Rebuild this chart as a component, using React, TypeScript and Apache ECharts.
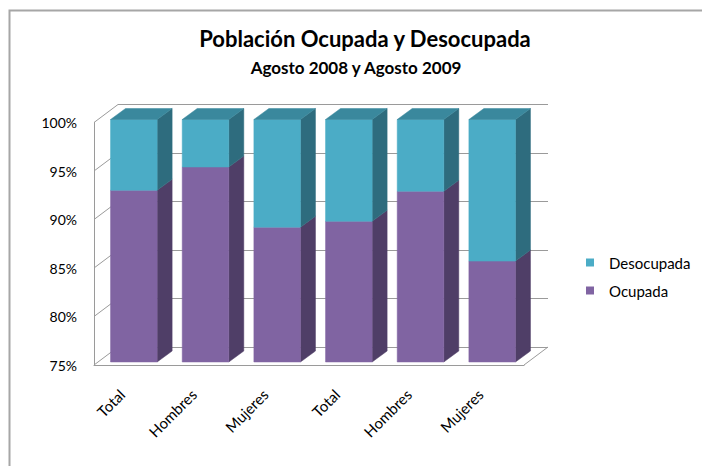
import React, { useEffect, useRef } from 'react';
import * as echarts from 'echarts';

// ---- data ----
const categories = ['Total', 'Hombres', 'Mujeres', 'Total', 'Hombres', 'Mujeres'];
const ocupada = [92.7, 95.1, 88.9, 89.5, 92.6, 85.4];
const desocupada = [7.3, 4.9, 11.1, 10.5, 7.4, 14.6];
const yTicks = [75, 80, 85, 90, 95, 100];
const Y_MIN = 75;
const Y_MAX = 100;
const Y_STEP = 5;
const legendOrder = ['Desocupada', 'Ocupada'];
const titleText = 'Población Ocupada y Desocupada';
const subtitleText = 'Agosto 2008 y Agosto 2009';

// ---- style / geometry ----
const FONT = 'Lato, "Open Sans", sans-serif';
const WALL_DX = 24;
const WALL_DY = -18;
const BAR_DX = 4;
const BAR_DY = -3;
const DEPTH_DX = 15;
const DEPTH_DY = -11;
const BAR_RATIO = 0.65;
const LINE = '#9a9a9a';

const COLORS = {
  Desocupada: { front: '#4bacc6', side: '#2e6c7e', top: '#3a889d' },
  Ocupada: { front: '#8064a2', side: '#4f3e67', top: '#6a5388' },
};

function makeBarRenderer(c: { front: string; side: string; top: string }) {
  return (params: any, api: any) => {
    const i = api.value(0);
    const v0 = api.value(1);
    const v1 = api.value(2);
    const hasTop = api.value(3);
    const pB = api.coord([i, Math.max(v0, Y_MIN)]);
    const pT = api.coord([i, Math.min(v1, Y_MAX)]);
    const bw = api.size([1, 0])[0] * BAR_RATIO;
    const xL = pB[0] - bw / 2 + BAR_DX;
    const xR = xL + bw;
    const yB = pB[1] + BAR_DY;
    const yT = pT[1] + BAR_DY;
    const children: any[] = [
      {
        type: 'polygon',
        shape: { points: [[xR, yB], [xR + DEPTH_DX, yB + DEPTH_DY], [xR + DEPTH_DX, yT + DEPTH_DY], [xR, yT]] },
        style: { fill: c.side, stroke: c.side, lineWidth: 0.5 },
      },
      {
        type: 'rect',
        shape: { x: xL, y: yT, width: bw, height: yB - yT },
        style: { fill: c.front, stroke: c.front, lineWidth: 0.5 },
      },
    ];
    if (hasTop) {
      children.push({
        type: 'polygon',
        shape: { points: [[xL, yT], [xR, yT], [xR + DEPTH_DX, yT + DEPTH_DY], [xL + DEPTH_DX, yT + DEPTH_DY]] },
        style: { fill: c.top, stroke: c.top, lineWidth: 0.5 },
      });
    }
    return { type: 'group', children };
  };
}

function wallRenderer(params: any, api: any) {
  const cs = params.coordSys;
  const v = api.value(1);
  const y = api.coord([0, v])[1];
  const children: any[] = [
    {
      type: 'line',
      shape: { x1: cs.x, y1: y, x2: cs.x + WALL_DX, y2: y + WALL_DY },
      style: { stroke: LINE, lineWidth: 1 },
    },
  ];
  if (v === Y_MIN) {
    children.push({
      type: 'line',
      shape: { x1: cs.x + cs.width, y1: y, x2: cs.x + cs.width + WALL_DX, y2: y + WALL_DY },
      style: { stroke: LINE, lineWidth: 1 },
    });
  }
  return { type: 'group', children };
}

export default function App() {
  const ref = useRef<HTMLDivElement>(null);
  useEffect(() => {
    if (!ref.current) return;
    const chart = echarts.init(ref.current, null, { renderer: 'svg' });
    const front = { left: 94, top: 122.5, right: 178, bottom: 101 };
    const back = {
      left: front.left + WALL_DX,
      top: front.top + WALL_DY,
      right: front.right - WALL_DX,
      bottom: front.bottom - WALL_DY,
    };
    chart.setOption({
      animation: false,
      backgroundColor: '#ffffff',
      textStyle: { fontFamily: FONT },
      title: [
        {
          text: titleText,
          left: 365,
          top: 27,
          padding: 0,
          textAlign: 'center',
          textStyle: { fontFamily: FONT, fontSize: 22, fontWeight: 'bold', color: '#000' },
        },
        {
          text: subtitleText,
          left: 356,
          top: 59,
          padding: 0,
          textAlign: 'center',
          textStyle: { fontFamily: FONT, fontSize: 17, fontWeight: 'bold', color: '#000' },
        },
      ],
      legend: {
        data: legendOrder,
        orient: 'vertical',
        left: 586,
        top: 255,
        padding: 0,
        icon: 'rect',
        itemWidth: 8,
        itemHeight: 8,
        itemGap: 13,
        textStyle: { fontFamily: FONT, fontSize: 15, color: '#000', padding: [0, 0, 0, 10] },
      },
      graphic: [
        {
          type: 'rect',
          shape: { x: 9.5, y: 10.5, width: 760, height: 520 },
          style: { fill: 'none', stroke: '#a6a6a6', lineWidth: 2 },
          silent: true,
        },
      ],
      grid: [
        { ...front, containLabel: false },
        { ...back, containLabel: false },
      ],
      xAxis: [
        {
          type: 'category',
          gridIndex: 0,
          data: categories,
          boundaryGap: true,
          axisTick: { show: false },
          axisLine: { show: true, lineStyle: { color: LINE, width: 1 } },
          axisLabel: {
            rotate: 45,
            margin: 19,
            padding: [0, 11, 0, 0],
            fontFamily: FONT,
            fontSize: 15,
            color: '#000',
            interval: 0,
          },
        },
        {
          type: 'category',
          gridIndex: 1,
          data: categories,
          show: false,
        },
      ],
      yAxis: [
        {
          type: 'value',
          gridIndex: 0,
          min: Y_MIN,
          max: Y_MAX,
          interval: Y_STEP,
          axisLine: { show: true, lineStyle: { color: LINE, width: 1 } },
          axisTick: { show: false },
          splitLine: { show: false },
          axisLabel: {
            formatter: '{value}%',
            margin: 17,
            padding: [8, 0, 0, 0],
            fontFamily: FONT,
            fontSize: 14,
            color: '#000',
          },
        },
        {
          type: 'value',
          gridIndex: 1,
          min: Y_MIN,
          max: Y_MAX,
          interval: Y_STEP,
          axisLine: { show: false },
          axisTick: { show: false },
          axisLabel: { show: false },
          splitLine: { show: true, lineStyle: { color: LINE, width: 1 } },
        },
      ],
      series: [
        {
          type: 'custom',
          name: 'wall',
          xAxisIndex: 0,
          yAxisIndex: 0,
          z: 1,
          silent: true,
          renderItem: wallRenderer,
          data: yTicks.map((v) => [0, v]),
          encode: { x: 0, y: 1 },
        },
        {
          type: 'custom',
          name: 'Ocupada',
          xAxisIndex: 0,
          yAxisIndex: 0,
          z: 3,
          itemStyle: { color: COLORS.Ocupada.front },
          renderItem: makeBarRenderer(COLORS.Ocupada),
          data: categories.map((_, i) => [i, 0, ocupada[i], 0]),
          encode: { x: 0, y: [1, 2] },
        },
        {
          type: 'custom',
          name: 'Desocupada',
          xAxisIndex: 0,
          yAxisIndex: 0,
          z: 3,
          itemStyle: { color: COLORS.Desocupada.front },
          renderItem: makeBarRenderer(COLORS.Desocupada),
          data: categories.map((_, i) => [i, ocupada[i], ocupada[i] + desocupada[i], 1]),
          encode: { x: 0, y: [1, 2] },
        },
      ],
    });
    return () => chart.dispose();
  }, []);
  return (
    <div
      ref={ref}
      style={{ position: 'fixed', left: 0, top: 0, width: 702, height: 466 }}
    />
  );
}
